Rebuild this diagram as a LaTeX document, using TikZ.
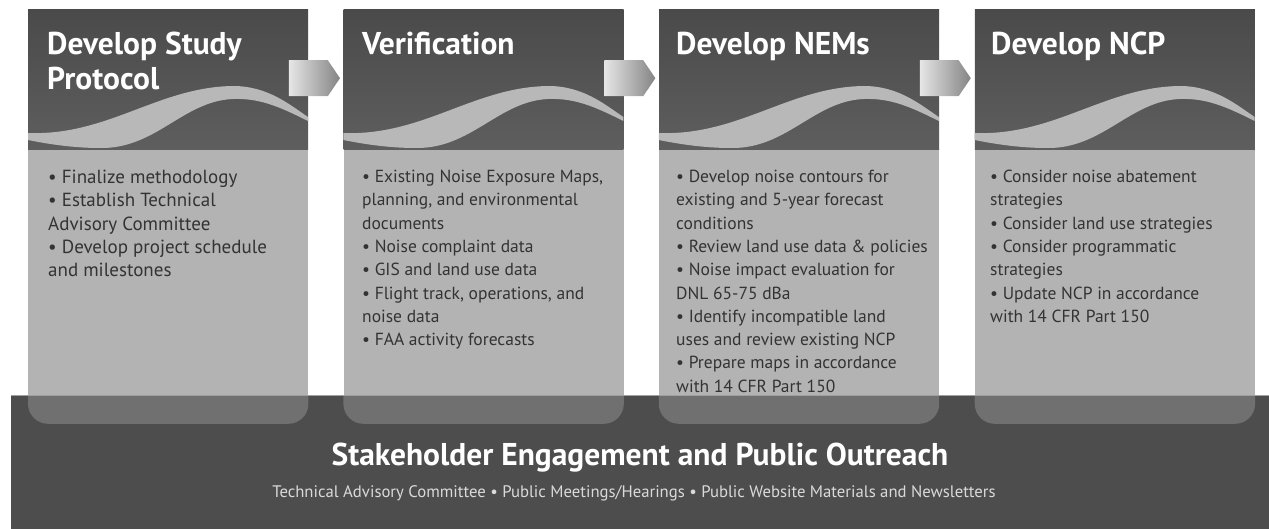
\documentclass[tikz,border=0pt]{standalone}
\usepackage{fontspec}
\setmainfont{PT Sans}
\usepackage{tikz}
\usetikzlibrary{positioning}
\usetikzlibrary{shapes.symbols}
\definecolor{hdtop}{HTML}{4A4A4A}
\definecolor{hdbot}{HTML}{5E5E5E}
\definecolor{bodygray}{HTML}{B3B3B3}
\definecolor{wavegray}{HTML}{B8B8B8}
\definecolor{bandgray}{HTML}{4D4D4D}
\definecolor{tabgray}{HTML}{707070}
\definecolor{textgray}{HTML}{333333}
\definecolor{subgray}{HTML}{DADADA}
\definecolor{arrlight}{HTML}{E6E6E6}
\definecolor{arrdark}{HTML}{848484}
\tikzstyle{wave} = [fill=wavegray]

\begin{document}
\begin{tikzpicture}[x=1pt, y=-1pt,
	header/.style={rectangle, inner sep=0pt, minimum width=280pt, minimum height=140pt, top color=hdtop, bottom color=hdbot, anchor=north west},
	bodybox/.style={rectangle, inner sep=0pt, minimum width=280pt, minimum height=246pt, fill=bodygray},
	stagearrow/.style={signal, signal to=east, signal pointer angle=112, inner sep=0pt, minimum width=51pt, minimum height=36pt, left color=arrlight, right color=arrdark},
	stagetitle/.style={anchor=north west, inner sep=0pt, align=left, text=white, font=\fontsize{31.5}{35}\selectfont\bfseries},
	stagetext/.style={anchor=north west, inner sep=0pt, align=left, text=textgray, font=\fontsize{17.5}{23.3}\selectfont}]
	\useasboundingbox (0,0) rectangle (1269,529);
	
	% bottom band
	\node[rectangle, inner sep=0pt, anchor=north west, minimum width=1258pt, minimum height=134pt, fill=bandgray] (band) at (11,395) {};
	
	\node[header] (hdr1) at (28,9) {};
	\node[header, right=35pt of hdr1] (hdr2) {};
	\node[header, right=35pt of hdr2] (hdr3) {};
	\node[header, right=35.5pt of hdr3] (hdr4) {};
	
	\node[bodybox, below=0pt of hdr1] (bdy1) {};
	\node[bodybox, below=0pt of hdr2] (bdy2) {};
	\node[bodybox, below=0pt of hdr3] (bdy3) {};
	\node[bodybox, below=0pt of hdr4] (bdy4) {};
	
	% tabs hanging into the band
	\begin{scope}
		\clip (0,395) rectangle (1269,529);
		\foreach \b in {bdy1, bdy2, bdy3, bdy4}
			\fill[tabgray, rounded corners=20pt] ([yshift=20pt]\b.south west) rectangle ([yshift=-28pt]\b.south east);
	\end{scope}
	\draw[color=gray!75, line width=1pt] (band.north west) -- (band.north east);
	
	% waves
	\foreach \h in {hdr1, hdr2, hdr3, hdr4}
		\fill[wave, shift={(\h.north west)}] (0,124) .. controls (80,127) and (130,78) .. (205,77) .. controls (240,77) and (262,96) .. (280,108) -- (280,112) .. controls (252,98) and (232,89) .. (205,90) .. controls (155,92) and (128,140) .. (72,139) .. controls (42,139) and (15,134) .. (0,131) -- cycle;
	
	\node[stagearrow] (arr1) at ([yshift=1pt]hdr1.east) {};
	\node[stagearrow] (arr2) at ([yshift=1pt]hdr2.east) {};
	\node[stagearrow] (arr3) at ([yshift=1pt]hdr3.east) {};
	
	\node[stagetitle] (ttl1) at (47,32) {Develop Study\\Protocol};
	\node[stagetitle] (ttl2) at (362,32) {Verification};
	\node[stagetitle] (ttl3) at (676,32) {Develop NEMs};
	\node[stagetitle] (ttl4) at (991,32) {Develop NCP};
	
	\node[stagetext, font=\fontsize{19}{23.3}\selectfont] (txt1) at (48,170) {• Finalize methodology\\• Establish Technical\\Advisory Committee\\• Develop project schedule\\and milestones};
	\node[stagetext] (txt2) at (362,170) {• Existing Noise Exposure Maps,\\planning, and environmental\\documents\\• Noise complaint data\\• GIS and land use data\\• Flight track, operations, and\\noise data\\• FAA activity forecasts};
	\node[stagetext] (txt3) at (676,170) {• Develop noise contours for\\existing and 5-year forecast\\conditions\\• Review land use data \& policies\\• Noise impact evaluation for\\DNL 65-75 dBa\\• Identify incompatible land\\uses and review existing NCP\\• Prepare maps in accordance\\with 14 CFR Part 150};
	\node[stagetext] (txt4) at (990,170) {• Consider noise abatement\\strategies\\• Consider land use strategies\\• Consider programmatic\\strategies\\• Update NCP in accordance\\with 14 CFR Part 150};
	
	\node[anchor=base, inner sep=0pt, text=white, font=\fontsize{31.5}{35}\selectfont\bfseries] (outreach) at (640,465) {Stakeholder Engagement and Public Outreach};
	\node[anchor=base, inner sep=0pt, text=subgray, font=\fontsize{16.7}{20}\selectfont] (topics) at (634,497) {Technical Advisory Committee • Public Meetings/Hearings • Public Website Materials and Newsletters};
\end{tikzpicture}
\end{document}
